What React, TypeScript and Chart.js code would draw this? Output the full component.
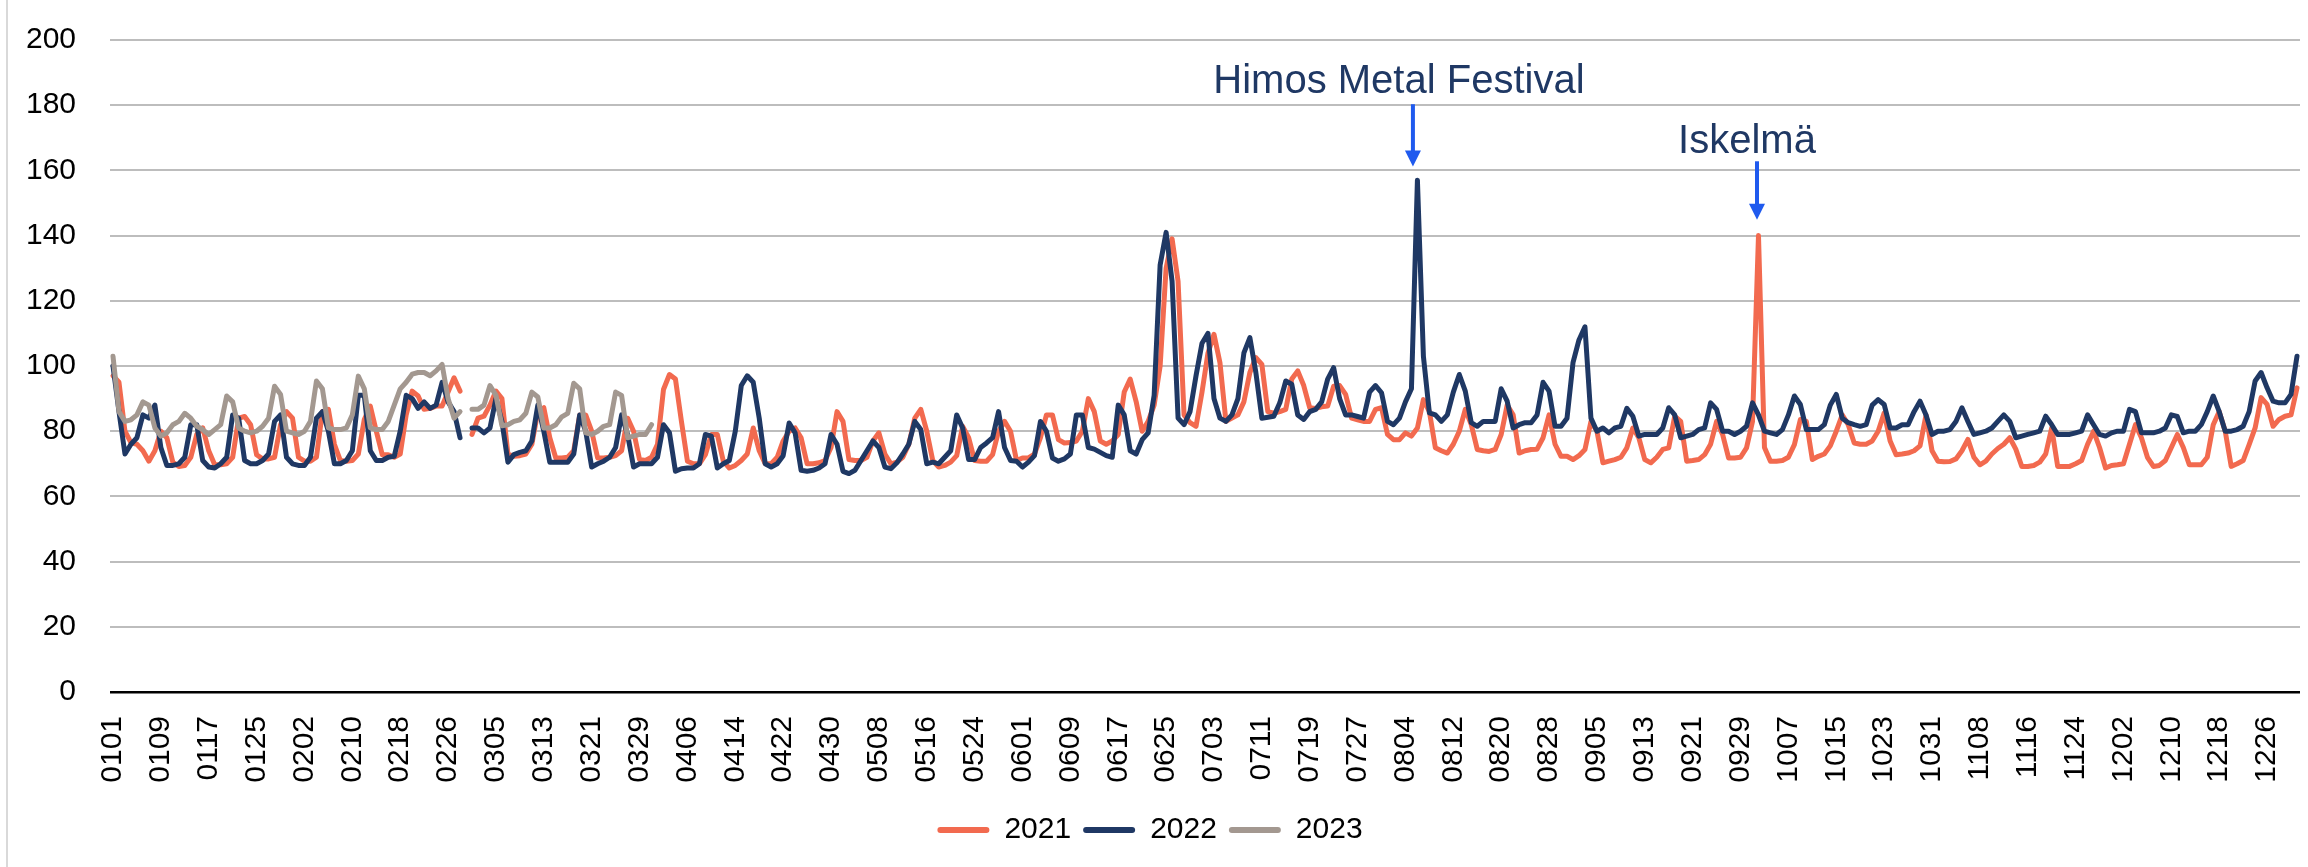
import React, { useEffect, useRef } from 'react';
import { Chart, registerables } from 'chart.js';

Chart.register(...registerables);

// ---- categories: every day of a (leap) year as MMDD ----
const MONTH_DAYS = [31, 29, 31, 30, 31, 30, 31, 31, 30, 31, 30, 31];
const dayLabels: string[] = [];
MONTH_DAYS.forEach((n, m) => {
  for (let d = 1; d <= n; d++) {
    dayLabels.push(String(m + 1).padStart(2, '0') + String(d).padStart(2, '0'));
  }
});
const LABEL_EVERY = 8;

const SERIES_NAMES = ['2021', '2022', '2023'];
const SERIES_COLORS = ['#F26A4F', '#1F3864', '#A39890'];

// ---- values ----
const y2021: (number | null)[] = [
  97, 95, 80, 76.5, 76, 74, 70.8, 74, 80, 78,
  70.5, 69.2, 69.5, 72, 79, 81, 74, 69.7, 69.7, 70,
  72, 84, 84.5, 82, 72.8, 71.5, 71.5, 72, 82, 86,
  84, 72, 70.8, 70.8, 72, 86, 86.7, 76, 71, 70.8,
  71, 73, 83.6, 87.7, 80, 72.8, 72.8, 72, 73, 85,
  92.3, 90.8, 86.7, 87, 87.7, 87.7, 92, 96.4, 92.3, null,
  79, 84, 84.6, 88, 92.3, 90, 73, 72.3, 72.5, 73,
  76, 86, 87.2, 78, 71.8, 71.8, 72, 74, 85, 85,
  80, 71.8, 71.8, 72, 72.5, 74, 84, 80, 71.3, 71,
  72, 76, 92.8, 97.4, 96, 83, 70.8, 70, 70, 72.8,
  79, 79, 70.8, 68.7, 69.5, 71, 73, 81, 74, 70,
  70, 72, 77, 80, 81, 78, 70, 70, 70.3, 71,
  75, 86, 83, 71.3, 71, 71, 72, 77, 79.5, 73,
  70, 70.5, 72, 76, 84, 86.7, 80, 71, 69, 69.5,
  70.5, 72.5, 81.5, 78, 71, 70.8, 70.8, 72.8, 80, 83,
  80, 71, 71.8, 71.8, 73, 78, 85, 85, 77.4, 76.4,
  76.5, 77, 80, 90, 86, 77, 76, 77, 79, 92,
  96, 89, 80, 83, 88, 100, 130, 139, 126, 85,
  82.6, 81.5, 92, 104, 109.7, 101, 83, 84, 85, 89,
  98, 102.6, 100.5, 86, 85.5, 86, 86.7, 96, 98.5, 94,
  87.2, 87, 87.5, 87.7, 93.8, 94, 91.3, 84, 83.5, 83,
  83, 86.7, 87.2, 79, 77.4, 77.4, 79.5, 78.5, 81, 89.7,
  86, 74.9, 74, 73.3, 76, 80, 86.7, 82, 74.4, 74,
  73.8, 74.4, 79, 88, 85, 73.3, 74, 74.4, 74.5, 78,
  85, 76, 72.3, 72.3, 71.3, 72.5, 74.4, 83, 80, 70.3,
  70.8, 71.3, 72, 74.9, 81, 78, 71.3, 70.3, 72, 74.4,
  74.9, 84.6, 83, 70.8, 71, 71.3, 72.8, 76, 83, 79,
  71.8, 71.8, 72, 74.9, 83, 140, 75, 70.8, 70.8, 71,
  72, 75.9, 83.6, 83, 71.3, 72.3, 73, 75.5, 80, 85,
  82, 76.4, 76, 76, 77, 80, 85.6, 77, 72.8, 73,
  73.3, 74, 75.5, 85, 74, 70.8, 70.6, 70.7, 71.5, 74,
  77.5, 72, 69.7, 70.8, 73, 74.7, 76, 78, 74.5, 69.2,
  69.2, 69.5, 70.5, 73, 81, 69.2, 69.2, 69.2, 70, 71,
  76, 80, 75, 68.7, 69.5, 69.7, 70, 76, 82, 78,
  72, 69.2, 69.5, 71, 75, 79, 75, 69.7, 69.7, 69.7,
  72, 82, 86, 80, 69.2, 70, 71, 75.9, 81, 90.3,
  88.2, 81.5, 83.6, 84.6, 85, 93.3,
];

const y2022: (number | null)[] = [
  100, 86, 73, 76, 78, 85, 84, 88, 75, 69.5,
  69.5, 70, 72, 82, 82, 71, 69, 68.7, 70, 72,
  85, 84, 71, 70, 70, 71, 73, 83, 85, 72,
  70, 69.5, 69.5, 72, 84, 86, 80, 70, 70, 71,
  74, 91, 91, 74, 71, 71, 72, 72.3, 80, 91,
  90, 87, 89, 87, 88, 95, 89, 86, 78, null,
  81, 81, 79.5, 81, 90, 83, 70.5, 72.8, 73.5, 74,
  77, 88, 80, 70.5, 70.5, 70.5, 70.5, 73, 85, 80,
  69, 70, 70.8, 72, 75, 85, 79, 69, 70, 70,
  70, 72, 82, 79.5, 67.7, 68.5, 68.7, 68.7, 70, 79,
  78.5, 68.7, 70, 71, 80, 94, 97, 95, 84, 70,
  69, 70, 72.5, 82.5, 79.5, 68, 67.7, 68, 68.7, 70,
  79, 76, 67.7, 67, 68, 71, 74, 77, 75, 69,
  68.5, 70.3, 73, 76, 83, 80.5, 70, 70.5, 70, 72,
  74, 85, 81, 71.3, 71.3, 75, 76.4, 78, 86, 75,
  71, 70.8, 69, 70.5, 72.5, 83, 80, 71.8, 70.8, 71.5,
  73, 85, 85, 75, 74.5, 73.5, 72.5, 72, 88, 85,
  74, 73, 77.4, 79.5, 91, 131, 141, 126, 84, 82,
  86, 97, 107, 110, 90, 84, 83, 85, 90, 104,
  108.7, 98, 84, 84.3, 84.6, 88.7, 95.4, 94.4, 85, 83.6,
  86, 86.7, 89, 96, 99.5, 90, 85, 85, 84.5, 84,
  92, 94, 91.8, 83, 82, 84, 89, 93, 157, 103,
  85.6, 85, 83, 85, 92, 97.4, 92.3, 82.6, 81.5, 83,
  83, 83, 93, 89.2, 81, 82, 82.6, 82.6, 85, 95,
  92.3, 81.5, 81.5, 84, 101, 108, 112, 84, 80, 81,
  79.5, 81, 81.5, 87, 84.6, 78.5, 79, 79, 79, 81,
  87.2, 85, 78, 78.5, 79, 80.5, 81, 88.7, 86.7, 80,
  80, 79, 80, 81.5, 88.7, 85, 80, 79.5, 79, 80.5,
  85, 90.8, 88.2, 80.5, 80.5, 80.5, 82, 88, 91.3, 84,
  82.6, 82, 81.5, 82, 88, 89.7, 88.2, 81, 81, 82,
  82, 86, 89.2, 85, 79, 80, 80, 80.5, 83, 87.2,
  83, 79, 79.5, 80, 81, 83, 85, 83, 78, 78.5,
  79, 79.5, 80, 84.6, 82, 79, 79, 79, 79.5, 80,
  85, 82, 79, 78.5, 79.5, 80, 80, 86.7, 86, 79.5,
  79.5, 79.5, 80, 81, 85, 84.5, 79.5, 80, 80, 82,
  86, 90.8, 86, 80, 80, 80.5, 81.5, 86, 95.4, 98,
  93.3, 89.2, 88.7, 88.7, 91.3, 103,
];

const y2023: (number | null)[] = [
  103, 86, 83, 83.5, 85, 89, 88, 81, 78.5, 79.5,
  82, 83, 85.5, 84, 81.5, 80.5, 79, 80.5, 82, 90.8,
  89, 81, 80, 79.5, 80, 81.5, 84, 93.8, 91.3, 80,
  79.5, 79, 80, 83, 95.4, 93, 81, 80.5, 80.5, 81,
  85, 96.9, 93, 81, 80.5, 80.5, 83, 88, 93, 95,
  97.5, 98, 98, 97, 98.5, 100.5, 90, 84, 86, null,
  86.7, 86.7, 88, 94, 91, 81.7, 82, 83, 83.5, 85.5,
  92, 90.5, 81, 81, 82, 84.4, 85.5, 94.7, 93, 79.5,
  79, 80, 81.5, 82, 92, 91, 78, 78.5, 79, 79,
  82,
];

const Y_MIN = 0;
const Y_MAX = 200;
const Y_STEP = 20;

// annotation texts with arrows (anchored to a category index)
const NOTES = [
  { text: 'Himos Metal Festival', index: 218, textDx: -18.5, textAt: 183.7, arrowDx: -4.5, arrowFrom: 180.3, arrowTo: 161.2 },
  { text: 'Iskelmä', index: 275, textDx: -11.5, textAt: 165.2, arrowDx: -1.5, arrowFrom: 162.8, arrowTo: 144.9 },
];
const NOTE_COLOR = '#1F3864';
const ARROW_COLOR = '#1F5AEE';
const FONT = '"Liberation Sans", Arial, sans-serif';

const notesPlugin = {
  id: 'eventNotes',
  afterDatasetsDraw(chart: any) {
    const { ctx } = chart;
    const xs = chart.scales.x;
    const ys = chart.scales.y;
    ctx.save();
    NOTES.forEach((n) => {
      const cx = xs.getPixelForValue(n.index);
      ctx.font = `40px ${FONT}`;
      ctx.fillStyle = NOTE_COLOR;
      ctx.textAlign = 'center';
      ctx.textBaseline = 'alphabetic';
      ctx.fillText(n.text, cx + n.textDx, ys.getPixelForValue(n.textAt));
      const ax = cx + n.arrowDx;
      const y0 = ys.getPixelForValue(n.arrowFrom);
      const y1 = ys.getPixelForValue(n.arrowTo);
      const head = 16;
      ctx.strokeStyle = ARROW_COLOR;
      ctx.lineWidth = 4;
      ctx.beginPath();
      ctx.moveTo(ax, y0);
      ctx.lineTo(ax, y1 - head + 2);
      ctx.stroke();
      ctx.fillStyle = ARROW_COLOR;
      ctx.beginPath();
      ctx.moveTo(ax - 8, y1 - head);
      ctx.lineTo(ax + 8, y1 - head);
      ctx.lineTo(ax, y1);
      ctx.closePath();
      ctx.fill();
    });
    ctx.restore();
  },
};

export default function App() {
  const canvasRef = useRef<HTMLCanvasElement | null>(null);

  useEffect(() => {
    document.body.style.margin = '0';
    const canvas = canvasRef.current;
    if (!canvas) return;
    Chart.defaults.font.family = FONT;
    Chart.defaults.font.size = 30;
    Chart.defaults.color = '#000';

    const seriesValues = [y2021, y2022, y2023];
    const chart = new Chart(canvas, {
      type: 'line',
      data: {
        labels: dayLabels,
        datasets: seriesValues.map((vals, i) => ({
          label: SERIES_NAMES[i],
          data: vals,
          borderColor: SERIES_COLORS[i],
          backgroundColor: SERIES_COLORS[i],
          borderWidth: 5,
          pointRadius: 0,
          pointHoverRadius: 0,
          tension: 0,
          spanGaps: false,
          borderJoinStyle: 'round',
          borderCapStyle: 'round',
          order: 3 - i,
        })),
      },
      options: {
        responsive: false,
        animation: false,
        devicePixelRatio: 1,
        events: [],
        layout: { padding: { left: 0, right: 8, top: 40, bottom: 12 } },
        plugins: {
          tooltip: { enabled: false },
          legend: {
            position: 'bottom',
            labels: {
              boxWidth: 52,
              boxHeight: 6,
              padding: 12,
              color: '#000',
              font: { size: 30, family: FONT },
              useBorderRadius: true,
              generateLabels: (ch: any) =>
                ch.data.datasets.map((ds: any, i: number) => ({
                  text: ds.label,
                  fillStyle: ds.borderColor,
                  strokeStyle: ds.borderColor,
                  lineWidth: 0,
                  hidden: false,
                  datasetIndex: i,
                  borderRadius: 3,
                  fontColor: '#000',
                })),
            },
          },
        },
        scales: {
          x: {
            type: 'category',
            offset: true,
            grid: { display: false, drawTicks: false },
            border: { display: false },
            ticks: {
              autoSkip: false,
              minRotation: 90,
              maxRotation: 90,
              padding: 24,
              color: '#000',
              font: { size: 30, family: FONT },
              callback: (_v: any, index: number) =>
                index % LABEL_EVERY === 0 ? dayLabels[index] : null,
            },
            afterFit: (scale: any) => {
              scale.height = 111;
              scale.paddingLeft = 0;
              scale.paddingRight = 0;
            },
          },
          y: {
            min: Y_MIN,
            max: Y_MAX,
            border: { display: false },
            grid: {
              drawTicks: false,
              color: (c: any) => (c.tick && c.tick.value === 0 ? '#000000' : '#BDBDBD'),
              lineWidth: (c: any) => (c.tick && c.tick.value === 0 ? 2.5 : 2),
            },
            ticks: {
              stepSize: Y_STEP,
              padding: 34,
              color: '#000',
              font: { size: 30, family: FONT },
            },
            afterFit: (scale: any) => {
              scale.width = 110;
              scale.paddingTop = 0;
              scale.paddingBottom = 0;
            },
          },
        },
      },
      plugins: [notesPlugin],
    } as any);

    return () => {
      chart.destroy();
    };
  }, []);

  return (
    <div style={{ position: 'relative', width: 2308, height: 867, background: '#fff' }}>
      <canvas ref={canvasRef} width={2308} height={867} style={{ display: 'block' }} />
      <div
        style={{
          position: 'absolute',
          left: 6,
          top: 0,
          width: 2,
          height: 867,
          background: '#D9D9D9',
          pointerEvents: 'none',
        }}
      />
    </div>
  );
}
